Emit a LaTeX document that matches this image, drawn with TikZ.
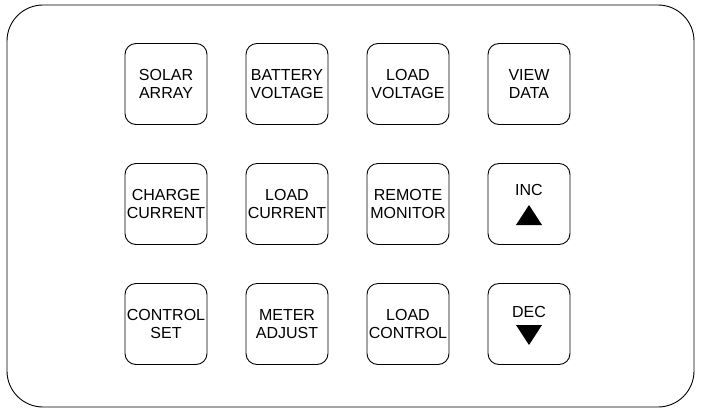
\documentclass[tikz,border=0pt]{standalone}
\usepackage{fontspec}
\setmainfont{Liberation Sans}
\begin{document}
\begin{tikzpicture}[x=1pt,y=-1pt,
  btn/.style={draw,line width=0.9pt,rounded corners=11pt,minimum width=82pt,minimum height=81pt,align=center,font=\fontsize{16}{18.5}\selectfont,inner sep=0pt},
  tri/.style={fill=black}]
\useasboundingbox (0,0) rectangle (704,413);
\draw[line width=0.9pt,rounded corners=36pt] (7,5) rectangle (694,407);
\node[btn] (b11) at (166,84) {SOLAR\\ARRAY};
\node[btn] (b12) at (287,84) {BATTERY\\VOLTAGE};
\node[btn] (b13) at (408,84) {LOAD\\VOLTAGE};
\node[btn] (b14) at (529,84) {VIEW\\DATA};
\node[btn] (b21) at (166,204) {CHARGE\\CURRENT};
\node[btn] (b22) at (287,204) {LOAD\\CURRENT};
\node[btn] (b23) at (408,204) {REMOTE\\MONITOR};
\node[btn] (b24) at (529,204) {};
\node[btn] (b31) at (166,324) {CONTROL\\SET};
\node[btn] (b32) at (287,324) {METER\\ADJUST};
\node[btn] (b33) at (408,324) {LOAD\\CONTROL};
\node[btn] (b34) at (529,324) {};
\node[font=\fontsize{16}{18.5}\selectfont] (inc) at (529,190) {INC};
\node[font=\fontsize{16}{18.5}\selectfont] (dec) at (529,312) {DEC};
\fill (516,225) -- (542,225) -- (529,205) -- cycle;
\fill (516,325) -- (542,325) -- (529,345) -- cycle;
\end{tikzpicture}
\end{document}
